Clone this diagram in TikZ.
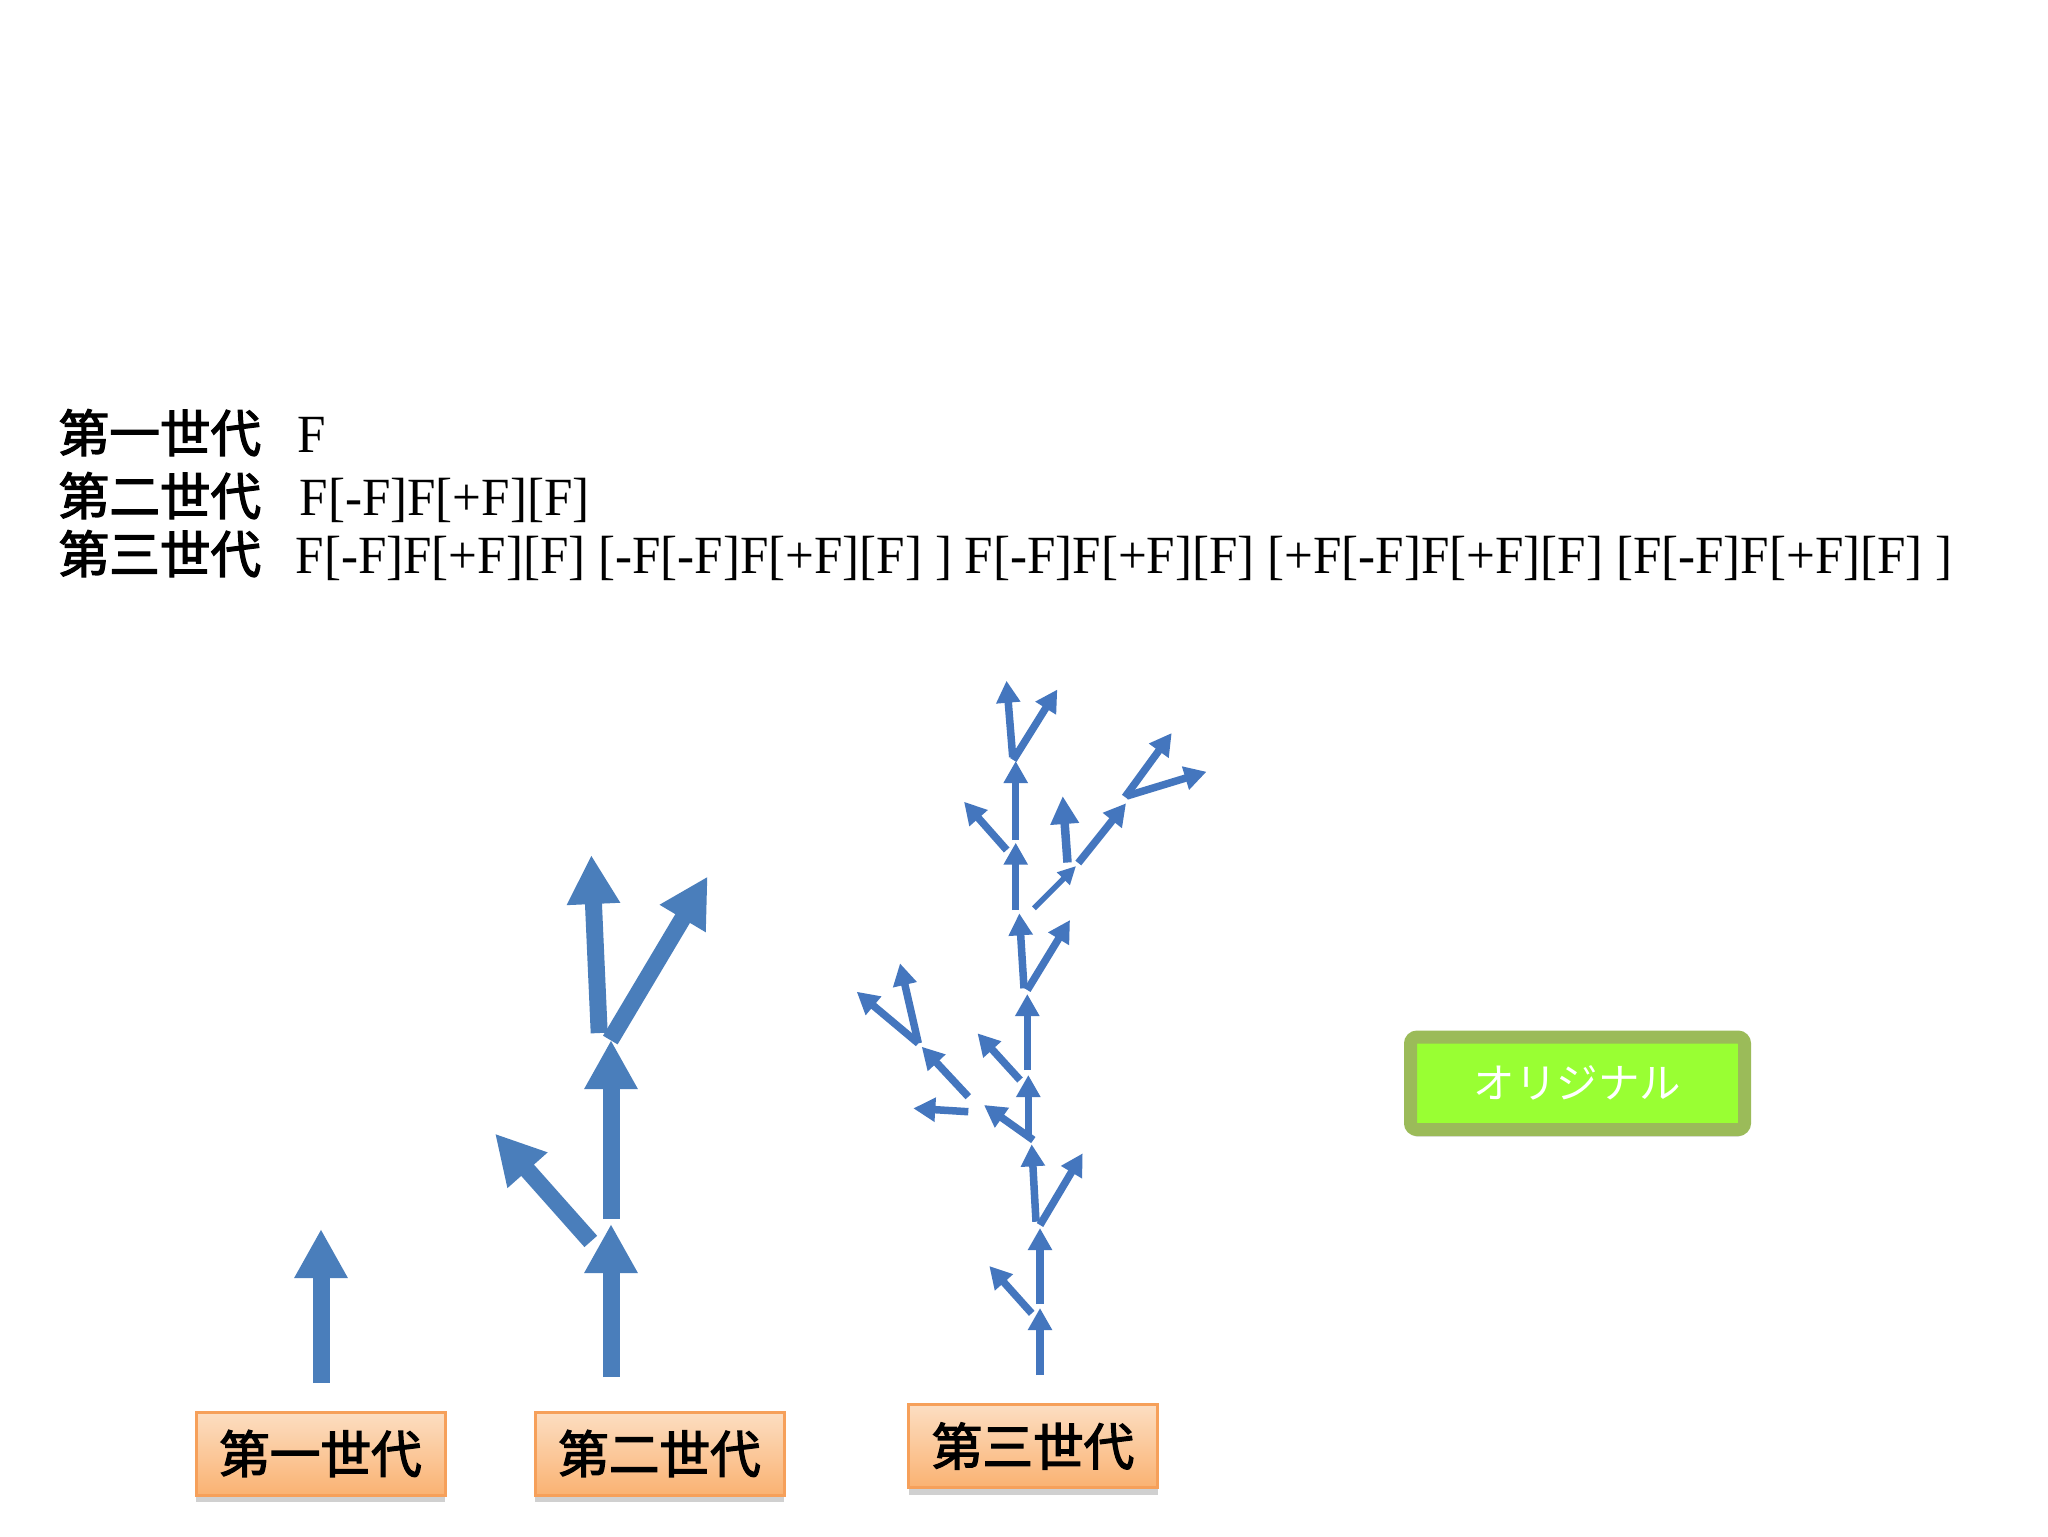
\documentclass[tikz,border=0pt]{standalone}
\usepackage{fontspec}
\setmainfont{Liberation Serif}
\newfontfamily\lsysfont[FakeStretch=0.95]{Liberation Serif}
\newfontfamily\cjk{Noto Sans CJK JP}
\newfontfamily\cjkheavy[FakeBold=2.5]{Noto Sans CJK JP}
\usetikzlibrary{arrows.meta,shadows}
\definecolor{arrowblue}{RGB}{74,126,187}
\definecolor{treeblue}{RGB}{68,118,190}
\definecolor{boxtop}{RGB}{252,222,194}
\definecolor{boxbot}{RGB}{250,178,114}
\definecolor{boxline}{RGB}{246,160,90}
\definecolor{greenborder}{RGB}{155,187,89}
\definecolor{greenfill}{RGB}{153,255,51}
\begin{document}
\begin{tikzpicture}[x=0.1mm,y=-0.1mm,
  bigarrow/.style={draw=arrowblue, line width=1.7mm, -{Triangle[width=5mm,length=4.9mm]}},
  treearrow/.style={draw=treeblue, line width=0.75mm, -{Triangle[width=2.3mm,length=2.2mm]}},
  smallarrow/.style={draw=treeblue, line width=0.55mm, -{Triangle[width=1.7mm,length=1.8mm]}},
  wideheadarrow/.style={draw=treeblue, line width=0.85mm, -{Triangle[width=2.7mm,length=2.8mm]}},
  heading/.style={anchor=base west, inner sep=0, font=\cjkheavy\fontsize{14.4pt}{16pt}\selectfont},
  lsys/.style={anchor=base west, inner sep=0, font=\lsysfont\fontsize{15.3pt}{17pt}\selectfont},
  genbox/.style={draw=boxline, line width=0.3mm, top color=boxtop, bottom color=boxbot,
    minimum width=24.9mm, minimum height=8.3mm, inner sep=0,
    drop shadow={shadow xshift=0mm, shadow yshift=-0.7mm, opacity=0.3, fill=black!60},
    font=\cjkheavy\fontsize{14.4pt}{16pt}\selectfont},
  origbox/.style={draw=greenborder, line width=1.3mm, fill=greenfill, rounded corners=0.65mm,
    minimum width=33.4mm, minimum height=9.25mm, inner sep=0, text=white,
    drop shadow={shadow xshift=0mm, shadow yshift=-0.7mm, opacity=0.3, fill=black!60},
    font=\cjk\fontsize{11.8pt}{13pt}\selectfont}
]
\useasboundingbox[fill=white] (0,0) rectangle (2048,1536);

% headings
\node[heading] (h1) at (58,452) {第一世代};
\node[lsys] (s1) at (297,452) {F};
\node[heading] (h2) at (58,515) {第二世代};
\node[lsys] (s2) at (299,515) {F[-F]F[+F][F]};
\node[heading] (h3) at (58,573) {第三世代};
\node[lsys] (s3) at (295,573) {F[-F]F[+F][F] [-F[-F]F[+F][F] ] F[-F]F[+F][F] [+F[-F]F[+F][F] [F[-F]F[+F][F] ]};

% generation 1
\draw[bigarrow] (321,1383) -- (321,1229);

% generation 2
\draw[bigarrow] (611,1377) -- (611,1224);
\draw[bigarrow] (611,1219) -- (611,1040);
\draw[bigarrow] (590.8,1241.4) -- (495,1133.6);
\draw[bigarrow] (599.2,1033) -- (591.3,855);
\draw[bigarrow] (610.3,1040) -- (707.7,876.4);

% generation 3
\draw[treearrow] (1040,1375) -- (1040,1308);
\draw[treearrow] (1031.7,1313.3) -- (989.3,1266);
\draw[treearrow] (1040,1304) -- (1040,1228);
\draw[treearrow] (1036,1221.7) -- (1031.7,1144.3);
\draw[treearrow] (1040,1225) -- (1082.7,1153.3);
\draw[treearrow] (1028.3,1138) -- (1028.3,1075);
\draw[treearrow] (1033.3,1140) -- (984,1105);
\draw[treearrow] (968.3,1096.7) -- (921.7,1046.7);
\draw[treearrow] (918.3,1043.3) -- (856.7,991.7);
\draw[treearrow] (918.3,1043.3) -- (900,963.3);
\draw[treearrow] (968.3,1111.7) -- (913.3,1108.3);
\draw[treearrow] (1020,1080) -- (977.5,1033.3);
\draw[treearrow] (1027.3,1070) -- (1027.3,994);
\draw[treearrow] (1024,988.3) -- (1019.3,913.3);
\draw[treearrow] (1027.3,990) -- (1070,920);
\draw[treearrow] (1015.7,910) -- (1015.7,842.7);
\draw[treearrow] (1006.7,850) -- (964,801.7);
\draw[treearrow] (1015.7,840) -- (1015.7,761);
\draw[treearrow] (1012.7,757) -- (1006.5,680.7);
\draw[treearrow] (1013.3,760) -- (1057.3,689.5);
\draw[smallarrow] (1034,908.3) -- (1076,866);
\draw[wideheadarrow] (1067.5,862.5) -- (1062.7,796);
\draw[treearrow] (1078.3,863) -- (1126,803.3);
\draw[treearrow] (1125,797) -- (1171.7,733);
\draw[treearrow] (1126.7,796) -- (1206.5,771.7);

% labels
\node[genbox] (g1) at (320.5,1453.5) {第一世代};
\node[genbox] (g2) at (659.5,1453.5) {第二世代};
\node[genbox] (g3) at (1033,1446) {第三世代};
\node[origbox] (orig) at (1577.5,1083.3) {オリジナル};
\end{tikzpicture}
\end{document}
